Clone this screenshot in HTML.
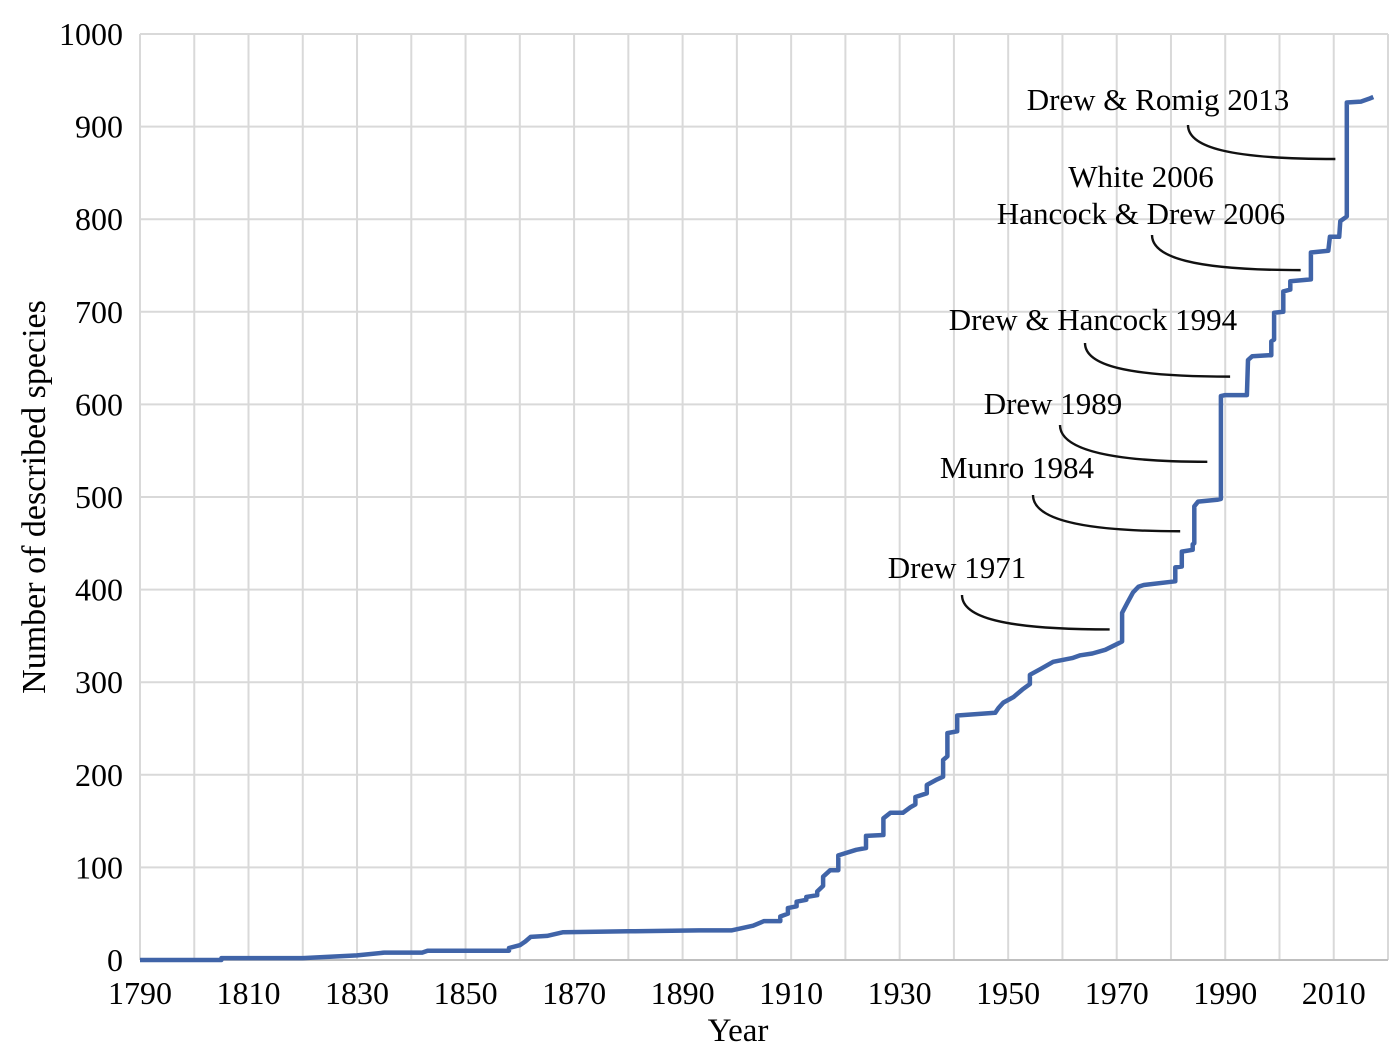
<!DOCTYPE html>
<html><head><meta charset="utf-8">
<style>
html,body{margin:0;padding:0;background:#fff;}
svg{display:block;font-family:"Liberation Serif",serif;}
</style></head>
<body>
<svg id="chart" width="1396" height="1052" viewBox="0 0 1396 1052" xmlns="http://www.w3.org/2000/svg">
<g id="grid"></g>
<g id="axes"></g>
<g id="series"></g>
<g id="notes"></g>
<text x="738" y="1041" font-size="33" text-anchor="middle" fill="#000">Year</text>
<text transform="translate(45,497) rotate(-90)" font-size="34" text-anchor="middle" fill="#000">Number of described species</text>
</svg>
<script>
const years = [
1790,1805,1805,1820,1830,1835,1842,1843,1858,1858,
1860,1861,1862,1865,1868,1880,1893,1899,1903,1905,
1908,1908,1909.4,1909.4,1911,1911,1912.8,1912.8,1914.8,1914.8,
1915.9,1915.9,1917.2,1918.7,1918.7,1922,1923.8,1923.8,1927,1927,
1928.3,1930.6,1932,1932.9,1932.9,1935,1935,1936.9,1938,1938,
1938.8,1938.8,1940.6,1940.6,1947.6,1948.2,1949.1,1951,1952.6,1954,
1954,1955.9,1958.3,1961.8,1963.3,1965.5,1967.9,1970,1971,1971,
1972,1973,1974,1975,1980.8,1980.8,1982,1982,1984,1984,
1984.3,1984.3,1985,1988.5,1989.2,1989.2,1990,1994,1994.2,1995,
1998,1998.5,1998.5,1999,1999,2000.7,2000.7,2002,2002,2005.8,
2005.8,2009,2009.3,2011,2011.2,2012.2,2012.4,2012.4,2015,2016.5,
2017.3];
const counts = [
0,0,2,2,5,8,8,10,10,13,
16,20,25,26,30,31,32,32,37,42,
42,47,50,56,58,63,65,68,70,74,
80,90,97,97,113,119,121,134,135,153,
159,159,165,168,176,180,189,195,198,216,
220,245,247,264,267,272,278,284,292,298,
308,314,322,326,329,331,335,341,344,375,
386,397,403,405,409,424,425,441,443,449,
450,490,495,497,498,609,610,610,648,652,
653,653,668,670,699,700,722,724,733,735,
764,766,781,781,798,802,803,926,927,930,
932];
const xTicks = [1790,1810,1830,1850,1870,1890,1910,1930,1950,1970,1990,2010];
const yTicks = [0,100,200,300,400,500,600,700,800,900,1000];
const noteLines = [["Drew & Romig 2013"],["White 2006","Hancock & Drew 2006"],["Drew & Hancock 1994"],["Drew 1989"],["Munro 1984"],["Drew 1971"]];
const noteYears = [2010.3,2003.9,1990.9,1986.7,1981.7,1968.7];
const noteValues = [865,745,630,538,463,357];

const NS="http://www.w3.org/2000/svg";
const X0=140,X1=1388,Y0=960,Y1=34;
function xs(v){return X0+(v-1790)/(2020-1790)*(X1-X0);}
function ys(v){return Y0-(v/1000)*(Y0-Y1);}
function mk(tag,attrs,parent){const e=document.createElementNS(NS,tag);for(const k in attrs)e.setAttribute(k,attrs[k]);parent.appendChild(e);return e;}
const grid=document.getElementById('grid'),axes=document.getElementById('axes'),series=document.getElementById('series'),notes=document.getElementById('notes');
for(let y=1790;y<=2020;y+=10){const l=mk('line',{x1:xs(y),x2:xs(y),y1:Y1,y2:Y0,stroke:'#d9d9d9','stroke-width':2},grid);

}
yTicks.forEach(v=>{const l=mk('line',{x1:X0,x2:X1,y1:ys(v),y2:ys(v),stroke:v===0?'#bfbfbf':'#d9d9d9','stroke-width':2},grid);


const t=mk('text',{x:123,y:ys(v)+11,'font-size':32,'text-anchor':'end',fill:'#000'},axes);


t.textContent=v;});
xTicks.forEach(v=>{const t=mk('text',{x:xs(v),y:1004,'font-size':32,'text-anchor':'middle',fill:'#000'},axes);


t.textContent=v;});
let d='';years.forEach((y,i)=>{d+=(i?'L':'M')+xs(y).toFixed(1)+' '+ys(counts[i]).toFixed(1);});
const p=mk('path',{d:d,fill:'none',stroke:'#4064a8','stroke-width':4.5,'stroke-linejoin':'round'},series);


const textPos=[[1158,110],[1141,187],[1093,330],[1053,414],[1017,478],[957,578]];
const curveStart=[[1188,125],[1152,235],[1085,343],[1060,425],[1033,495],[962,595]];
noteLines.forEach((lines,i)=>{
 const g=mk('g',{},notes);
 
 
 lines.forEach((s,j)=>{const t=mk('text',{x:textPos[i][0],y:textPos[i][1]+j*37,'font-size':31,'text-anchor':'middle',fill:'#000'},g);
 
 
 t.textContent=s;});
 const [sx,sy]=curveStart[i];const ex=xs(noteYears[i]),ey=ys(noteValues[i]);
 const c=mk('path',{d:`M${sx} ${sy} C${sx} ${sy+22} ${sx+40} ${ey} ${ex} ${ey}`,fill:'none',stroke:'#111','stroke-width':2.4},g);
 
 
});
</script>
</body></html>
